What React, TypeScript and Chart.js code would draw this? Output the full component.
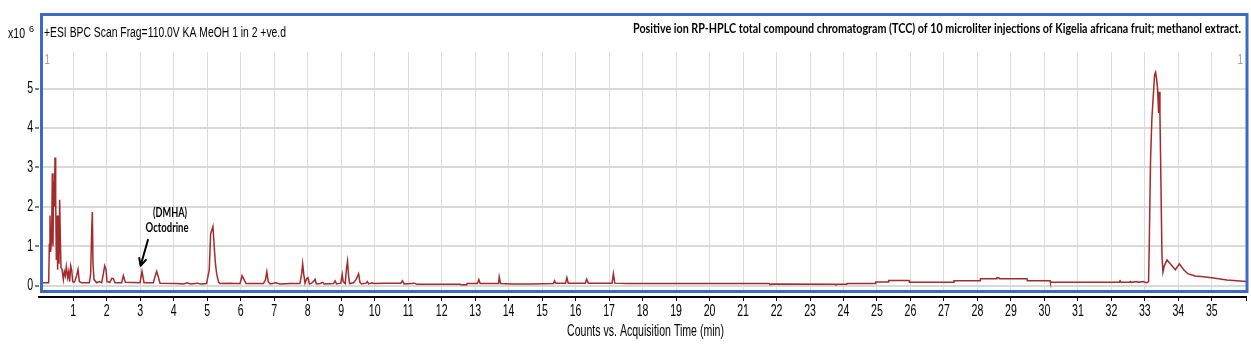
import React, { useEffect, useRef } from "react";
import { Chart, registerables } from "chart.js";

Chart.register(...registerables);

// ---- Data (retention time in min, counts x10^6) ----
const earlyTimes = [
  0.0, 0.265, 0.285, 0.304, 0.324, 0.354, 0.374, 0.394, 0.414, 0.434, 0.454, 0.474, 0.494, 0.514, 0.533,
  0.553, 0.573, 0.593, 0.613, 0.633, 0.663, 0.703, 0.733, 0.763, 0.792, 0.832, 0.862, 0.892, 0.922, 0.952,
  0.981, 1.021, 1.051, 1.101, 1.141, 1.181, 1.25, 1.48, 1.519, 1.549, 1.569, 1.589, 1.619, 1.698, 1.778,
  1.848, 1.898, 1.937, 1.977, 2.007, 2.096, 2.146, 2.196, 2.246, 2.445, 2.495, 2.555, 2.993, 3.052, 3.112,
  3.391, 3.45, 3.49, 3.53, 3.59, 4.09, 4.3, 4.4, 4.5, 4.7, 4.8, 4.98, 5.06, 5.1, 5.14, 5.17, 5.2, 5.24,
  5.28, 5.34, 5.38, 5.7, 5.8, 5.98, 6.04, 6.1, 6.16,
];
const earlyCounts = [
  0.07, 0.07, 1.05, 1.78, 0.85, 1.2, 2.85, 1.0, 2.65, 2.0, 3.25, 2.2, 0.65, 1.78, 0.4,
  1.78, 0.55, 2.18, 1.2, 0.45, 0.42, 0.15, 0.35, 0.25, 0.48, 0.2, 0.35, 0.1, 0.5, 0.4,
  0.1, 0.08, 0.12, 0.25, 0.41, 0.1, 0.07, 0.07, 0.3, 1.38, 1.87, 0.55, 0.15, 0.07, 0.1,
  0.07, 0.3, 0.5, 0.4, 0.1, 0.08, 0.18, 0.18, 0.07, 0.07, 0.25, 0.08, 0.07, 0.36, 0.07,
  0.07, 0.25, 0.36, 0.25, 0.06, 0.05, 0.04, 0.07, 0.04, 0.06, 0.04, 0.05, 0.4, 1.3, 1.42, 1.5, 1.1, 0.6,
  0.3, 0.08, 0.05, 0.06, 0.05, 0.05, 0.25, 0.15, 0.05,
];

const midTimes = [
  6.68, 6.74, 6.78, 6.82, 6.88, 7.05, 7.17, 7.49, 7.77, 7.82, 7.85, 7.88, 7.92, 7.97, 8.01, 8.05, 8.12,
  8.19, 8.22, 8.26, 8.37, 8.45, 8.49, 8.77, 8.82, 8.86, 8.99, 9.03, 9.06, 9.12, 9.16, 9.19, 9.22, 9.25,
  9.37, 9.44, 9.48, 9.52, 9.56, 9.61, 9.74, 9.78, 9.82, 9.92, 9.98, 10.28, 10.48, 10.78, 10.83, 10.88,
  11.19, 11.26, 12.55, 12.58, 12.75, 12.76, 13.07, 13.11, 13.15, 13.7, 13.72, 13.76, 14.09, 14.7, 15.34,
  15.37, 15.41, 15.7, 15.74, 15.78, 16.29, 16.33, 16.38, 17.09, 17.13, 17.17,
];
const midCounts = [
  0.05, 0.15, 0.35, 0.1, 0.04, 0.07, 0.04, 0.05, 0.05, 0.3, 0.55, 0.3, 0.06, 0.18, 0.2, 0.04, 0.06,
  0.12, 0.16, 0.04, 0.05, 0.08, 0.04, 0.05, 0.12, 0.04, 0.06, 0.28, 0.1, 0.05, 0.45, 0.62, 0.25, 0.05,
  0.07, 0.15, 0.22, 0.3, 0.08, 0.04, 0.06, 0.1, 0.04, 0.07, 0.05, 0.06, 0.06, 0.06, 0.12, 0.04,
  0.06, 0.03, 0.03, 0.02, 0.02, 0.05, 0.05, 0.15, 0.05, 0.05, 0.22, 0.05, 0.04, 0.04, 0.05,
  0.12, 0.06, 0.06, 0.2, 0.06, 0.06, 0.16, 0.06, 0.06, 0.3, 0.06,
];

const lateTimes = [
  17.5, 21.78, 21.81, 21.84, 23.75, 23.77, 23.8, 24.1, 24.11, 24.95, 24.96, 25.34, 25.35, 25.96, 25.97,
  27.29, 27.3, 28.08, 28.09, 28.56, 28.58, 28.64, 28.66, 29.48, 29.49, 30.17, 30.18, 32.24, 32.26, 32.29,
  32.55, 32.57, 32.6, 32.75, 32.8, 32.95, 33.0, 33.06, 33.11, 33.13, 33.17, 33.21, 33.25, 33.29, 33.32,
  33.35, 33.38, 33.41, 33.43, 33.45, 33.48, 33.51, 33.54, 33.58, 33.66, 33.76, 33.91, 34.03, 34.16,
  34.28, 34.5, 34.75, 35.05, 35.45, 36.03,
];
const lateCounts = [
  0.05, 0.05, 0.02, 0.04, 0.03, 0.02, 0.03, 0.03, 0.05, 0.05, 0.09, 0.09, 0.13, 0.13, 0.08,
  0.08, 0.12, 0.12, 0.17, 0.17, 0.2, 0.2, 0.17, 0.17, 0.12, 0.12, 0.08, 0.08, 0.12, 0.08,
  0.08, 0.1, 0.08, 0.1, 0.08, 0.1, 0.08, 0.07, 0.1, 1.0, 3.2, 4.25, 4.8, 5.35, 5.42,
  5.25, 5.0, 4.38, 4.92, 4.35, 2.6, 0.76, 0.34, 0.5, 0.65, 0.55, 0.4, 0.55, 0.4,
  0.3, 0.24, 0.22, 0.19, 0.14, 0.1,
];

// ---- Axis / text settings ----
const xRange = [-0.024, 36.02];
const yRange = [-0.292, 5.932];
const xLabelRange = [1, 35];
const yLabelRange = [0, 5];
const headerLeft = "+ESI BPC Scan Frag=110.0V KA MeOH 1 in 2 +ve.d";
const headerTitle =
  "Positive ion RP-HPLC total compound chromatogram (TCC) of 10 microliter injections of Kigelia africana fruit; methanol extract.";
const xAxisTitle = "Counts vs. Acquisition Time (min)";
const annotationLines = ["(DMHA)", "Octodrine"];
const annotationArrowTip = [3.01, 0.5];
const annotationArrowTail = [3.23, 1.16];
const annotationTextPos = [
  [3.89, 1.84],
  [3.8, 1.46],
];

const SANS = "'Liberation Sans', Arial, sans-serif";
const LINE_COLOR = "#a52a2a";
const FRAME_COLOR = "#3a6bc4";
const SQUEEZE = 0.66;

const isWhole = (v: number) => Math.abs(v - Math.round(v)) < 1e-6;

function squeezed(ctx: CanvasRenderingContext2D, text: string, x: number, y: number, align: CanvasTextAlign, sx: number) {
  ctx.save();
  ctx.translate(x, y);
  ctx.scale(sx, 1);
  ctx.textAlign = align;
  ctx.fillText(text, 0, 0);
  ctx.restore();
}

const decorPlugin = {
  id: "decor",
  afterDraw(chart: any) {
    const { ctx, chartArea: ca, scales } = chart;
    const xs = scales.x;
    const ys = scales.y;
    ctx.save();

    // white gaps between frame and the black axes
    ctx.fillStyle = "#ffffff";
    ctx.fillRect(ca.left, ca.bottom - 4, ca.right - ca.left + 4, 3);
    ctx.fillRect(ca.left, ca.top - 1, 1.2, ca.bottom - ca.top);

    // blue frame
    ctx.strokeStyle = FRAME_COLOR;
    ctx.lineWidth = 3;
    const fl = ca.left + 2.5;
    const fr = ca.right + 1;
    const ft = 14.5;
    const fb = ca.bottom - 5.5;
    ctx.strokeRect(fl, ft, fr - fl, fb - ft);

    // axis tick labels (positions from the Chart.js scales)
    ctx.fillStyle = "#000";
    ctx.textBaseline = "middle";
    ctx.font = `16px ${SANS}`;
    xs.ticks.forEach((t: any) => {
      const v = t.value;
      if (isWhole(v) && v >= xLabelRange[0] && v <= xLabelRange[1]) {
        squeezed(ctx, String(Math.round(v)), xs.getPixelForValue(v), ca.bottom + 15, "center", SQUEEZE);
      }
    });
    ys.ticks.forEach((t: any) => {
      const v = t.value;
      if (isWhole(v) && v >= yLabelRange[0] && v <= yLabelRange[1]) {
        squeezed(ctx, String(Math.round(v)), ca.left - 6, ys.getPixelForValue(v), "right", SQUEEZE);
      }
    });
    // axis title
    squeezed(ctx, xAxisTitle, (ca.left + ca.right) / 2 + 3, ca.bottom + 35, "center", SQUEEZE);

    // header texts
    ctx.textAlign = "left";
    ctx.font = `14px ${SANS}`;
    ctx.fillText("x10", 8, 34, 17);
    ctx.font = `9px ${SANS}`;
    ctx.fillText("6", 29, 30);
    ctx.font = `14px ${SANS}`;
    ctx.fillText(headerLeft, fl + 2.5, 33, 242);

    ctx.textAlign = "right";
    ctx.font = `bold 13px Lato, 'Open Sans', sans-serif`;
    ctx.fillText(headerTitle, 1241, 29, 608);

    // trace markers "1"
    ctx.fillStyle = "#b09a9a";
    ctx.font = `15px ${SANS}`;
    squeezed(ctx, "1", fl + 3, ca.top + 8, "left", SQUEEZE);
    squeezed(ctx, "1", fr - 4, ca.top + 8, "right", SQUEEZE);

    // annotation
    ctx.fillStyle = "#000";
    ctx.textAlign = "center";
    ctx.font = `bold 13px Lato, 'Open Sans', sans-serif`;
    const maxW = [34, 43];
    annotationLines.forEach((t, i) => {
      const [tx, ty] = annotationTextPos[i];
      ctx.fillText(t, xs.getPixelForValue(tx), ys.getPixelForValue(ty), maxW[i]);
    });
    const x1 = xs.getPixelForValue(annotationArrowTail[0]);
    const y1 = ys.getPixelForValue(annotationArrowTail[1]);
    const x2 = xs.getPixelForValue(annotationArrowTip[0]);
    const y2 = ys.getPixelForValue(annotationArrowTip[1]);
    ctx.strokeStyle = "#000";
    ctx.lineWidth = 2;
    ctx.lineCap = "round";
    ctx.beginPath();
    ctx.moveTo(x1, y1);
    ctx.lineTo(x2, y2);
    const ang = Math.atan2(y2 - y1, x2 - x1);
    const hl = 8;
    ctx.moveTo(x2, y2);
    ctx.lineTo(x2 - hl * Math.cos(ang - 0.45), y2 - hl * Math.sin(ang - 0.45));
    ctx.moveTo(x2, y2);
    ctx.lineTo(x2 - hl * Math.cos(ang + 0.45), y2 - hl * Math.sin(ang + 0.45));
    ctx.stroke();

    ctx.restore();
  },
};

export default function App() {
  const canvasRef = useRef<HTMLCanvasElement | null>(null);

  useEffect(() => {
    const canvas = canvasRef.current;
    if (!canvas) return;
    const times = [...earlyTimes, ...midTimes, ...lateTimes];
    const counts = [...earlyCounts, ...midCounts, ...lateCounts];
    const points = times.map((t, i) => ({ x: t, y: counts[i] }));

    const chart = new Chart(canvas, {
      type: "line",
      data: {
        datasets: [
          {
            data: points,
            borderColor: LINE_COLOR,
            borderWidth: 1.5,
            pointRadius: 0,
            tension: 0,
            fill: false,
          },
        ],
      },
      options: {
        responsive: false,
        maintainAspectRatio: false,
        animation: false,
        events: [],
        layout: { padding: { top: 52, right: 5, left: 0, bottom: 0 } },
        plugins: { legend: { display: false }, tooltip: { enabled: false } },
        scales: {
          x: {
            type: "linear",
            position: "bottom",
            min: xRange[0],
            max: xRange[1],
            afterFit: (s: any) => {
              s.height = 48;
            },
            ticks: {
              display: false,
              stepSize: 1,
              autoSkip: false,
              maxRotation: 0,
              minRotation: 0,
              includeBounds: true,
            },
            grid: {
              color: (c: any) => (c.tick && c.tick.value > 0.5 && c.tick.value < 35.99 ? "#dcdcdc" : "rgba(0,0,0,0)"),
              lineWidth: 1,
              drawTicks: true,
              tickLength: 4,
              tickWidth: 1,
              tickColor: (c: any) => (c.tick && c.tick.value > 0.5 ? "#000" : "rgba(0,0,0,0)"),
            },
            border: { display: true, color: "#000", width: 2 },
          },
          y: {
            type: "linear",
            min: yRange[0],
            max: yRange[1],
            afterFit: (s: any) => {
              s.width = 39;
            },
            ticks: {
              display: false,
              stepSize: 1,
              includeBounds: false,
            },
            grid: {
              color: (c: any) => (c.tick && isWhole(c.tick.value) ? "#d9d9d9" : "rgba(0,0,0,0)"),
              lineWidth: 2,
              drawTicks: true,
              tickLength: 4,
              tickWidth: 1,
              tickColor: (c: any) => (c.tick && isWhole(c.tick.value) ? "#000" : "rgba(0,0,0,0)"),
            },
            border: { display: false },
          },
        },
      },
      plugins: [decorPlugin],
    });
    return () => chart.destroy();
  }, []);

  return (
    <div style={{ position: "fixed", left: 0, top: 0, width: 1251, height: 345, background: "#fff" }}>
      <canvas ref={canvasRef} width={1251} height={345} style={{ display: "block", width: 1251, height: 345 }} />
    </div>
  );
}
